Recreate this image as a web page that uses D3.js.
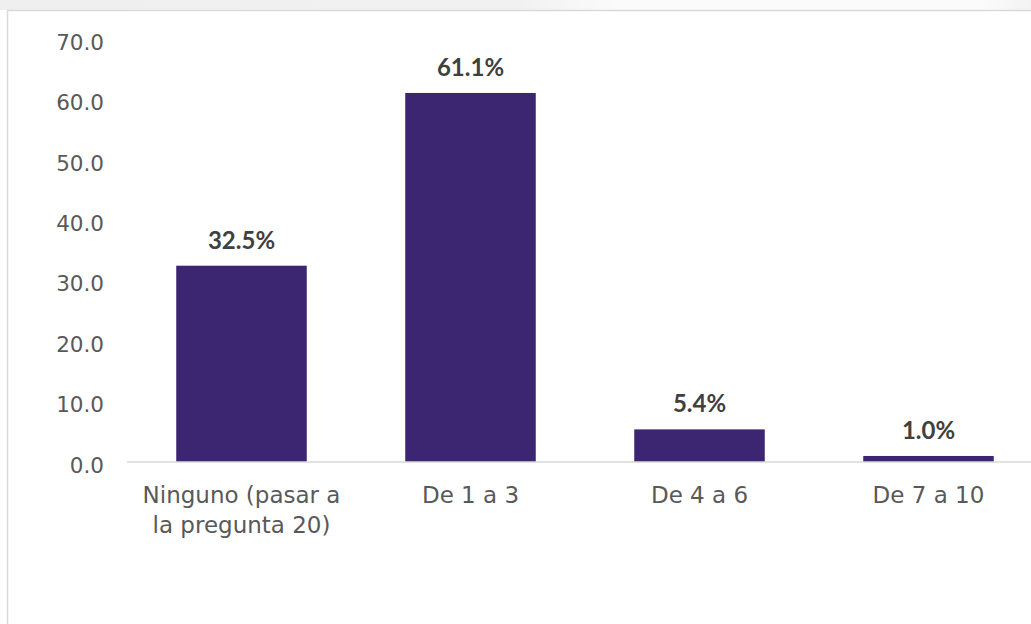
<!DOCTYPE html>
<html>
<head>
<meta charset="utf-8">
<script src="https://cdn.jsdelivr.net/npm/d3@7"></script>
<style>
  html, body { margin: 0; padding: 0; background: #ffffff; }
  svg { display: block; }
</style>
</head>
<body>
<svg id="chart" width="1031" height="624"></svg>
<script>
const categories = [["Ninguno (pasar a", "la pregunta 20)"], ["De 1 a 3"], ["De 4 a 6"], ["De 7 a 10"]];
const values = [32.5, 61.1, 5.4, 1.0];
const valueLabels = ["32.5%", "61.1%", "5.4%", "1.0%"];
const yTicks = [0, 10, 20, 30, 40, 50, 60, 70];

const svg = d3.select("#chart");
const W = 1031, H = 624;

// top shadow band
const defs = svg.append("defs");
const grad = defs.append("linearGradient").attr("id", "topShade").attr("x1", "0").attr("x2", "1").attr("y1", "0").attr("y2", "0");
grad.append("stop").attr("offset", "0").attr("stop-color", "#efefef");
grad.append("stop").attr("offset", "0.5").attr("stop-color", "#f1f1f1");
grad.append("stop").attr("offset", "0.6").attr("stop-color", "#fbfbfb");
grad.append("stop").attr("offset", "0.95").attr("stop-color", "#fbfbfb");
grad.append("stop").attr("offset", "1").attr("stop-color", "#f3f3f3");
svg.append("rect").attr("x", 0).attr("y", 0).attr("width", W).attr("height", 10).attr("fill", "url(#topShade)");

// chart frame
svg.append("rect").attr("x", 7.5).attr("y", 10.5).attr("width", 1200).attr("height", 1000)
  .attr("fill", "#ffffff").attr("stroke", "#d9d9d9").attr("stroke-width", 1.5);

const x = d3.scaleBand().domain(d3.range(categories.length)).range([127, 1043])
  .paddingInner(0.43).paddingOuter(0.215);
const y = d3.scaleLinear().domain([0, 70]).range([462, 39.2]);

// y tick labels
const yAxis = d3.axisLeft(y).tickValues(yTicks).tickSize(0).tickPadding(0).tickFormat(d3.format(".1f"));
const gy = svg.append("g").attr("transform", "translate(104,0)").call(yAxis);
gy.select(".domain").remove();
gy.selectAll("text")
  .attr("font-family", "'DejaVu Sans', sans-serif")
  .attr("font-size", 21.5)
  .attr("fill", "#595959")
  .attr("dy", null)
  .attr("y", 10);

// bars
svg.append("g").selectAll("rect").data(values).join("rect")
  .attr("x", (d, i) => x(i))
  .attr("width", x.bandwidth())
  .attr("y", d => y(d))
  .attr("height", d => y(0) - y(d))
  .attr("fill", "#3d2671");

// baseline
svg.append("line").attr("x1", 127).attr("x2", W).attr("y1", y(0)).attr("y2", y(0))
  .attr("stroke", "#d9d9d9").attr("stroke-width", 1.5);

// value labels
svg.append("g").selectAll("text").data(values).join("text")
  .attr("x", (d, i) => x(i) + x.bandwidth() / 2)
  .attr("y", d => y(d) - 17)
  .attr("text-anchor", "middle")
  .attr("font-family", "Lato, sans-serif")
  .attr("font-weight", "bold")
  .attr("font-size", 24)
  .attr("fill", "#404040")
  .text((d, i) => valueLabels[i]);

// category labels
const cat = svg.append("g").selectAll("text").data(categories).join("text")
  .attr("x", (d, i) => x(i) + x.bandwidth() / 2)
  .attr("y", 503)
  .attr("text-anchor", "middle")
  .attr("font-family", "'DejaVu Sans', sans-serif")
  .attr("font-size", 23)
  .attr("fill", "#595959");
cat.selectAll("tspan").data((d, i) => d.map(t => ({ t, i }))).join("tspan")
  .attr("x", d => x(d.i) + x.bandwidth() / 2)
  .attr("dy", (d, j) => j === 0 ? 0 : 30)
  .text(d => d.t);
</script>
</body>
</html>
